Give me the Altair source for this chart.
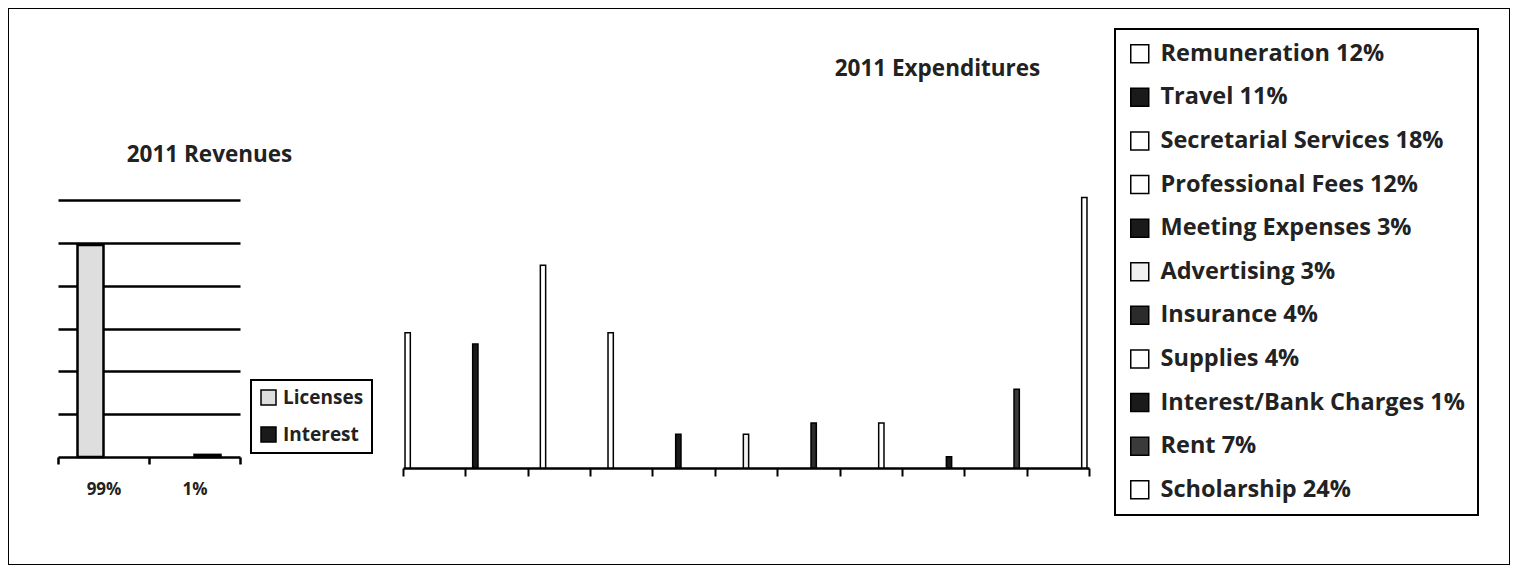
import altair as alt
import pandas as pd

# ---- 2011 Revenues ----
rev_categories = ["99%", "1%"]
rev_series = ["Licenses", "Interest"]
rev_values = [99, 1]
rev_colors = ["#dedede", "#1a1a1a"]

# ---- 2011 Expenditures ----
exp_names = ["Remuneration", "Travel", "Secretarial Services", "Professional Fees",
             "Meeting Expenses", "Advertising", "Insurance", "Supplies",
             "Interest/Bank Charges", "Rent", "Scholarship"]
exp_values = [12, 11, 18, 12, 3, 3, 4, 4, 1, 7, 24]
exp_colors = ["#ffffff", "#1a1a1a", "#ffffff", "#ffffff", "#1a1a1a", "#f0f0f0",
              "#2b2b2b", "#ffffff", "#1a1a1a", "#3a3a3a", "#ffffff"]
exp_labels = [f"{n} {v}%" for n, v in zip(exp_names, exp_values)]

rev_df = pd.DataFrame({"rcat": rev_categories, "rser": rev_series, "rval": rev_values})
exp_df = pd.DataFrame({"ecat": exp_names, "elabel": exp_labels, "eval": exp_values})

FONT = "Open Sans"
TXT = "#222222"

rev_bars = alt.Chart(rev_df).mark_bar(stroke="black", strokeWidth=2.5).encode(
    x=alt.X("rcat:N", sort=rev_categories,
            scale=alt.Scale(range=[50, 232], paddingInner=0, paddingOuter=0),
            axis=alt.Axis(orient="bottom", offset=-108, tickBand="extent",
                          tickSize=7, tickWidth=2.5, tickColor="black",
                          domainColor="black", domainWidth=2.5, labelAngle=0,
                          labelFontSize=17, labelFontWeight="bold", labelPadding=17,
                          labelColor=TXT, title="2011 Revenues", titleX=201, titleY=-303,
                          titleAlign="center", titleBaseline="middle", titleFontSize=22.5,
                          titleFontWeight="bold", titleColor=TXT, grid=False)),
    xOffset=alt.XOffset("rser:N", sort=rev_series,
                        scale=alt.Scale(paddingOuter=0.75, paddingInner=0)),
    y=alt.Y("rval:Q", scale=alt.Scale(domain=[0, 120], range=[449, 192]),
            axis=alt.Axis(orient="left", offset=-232, values=[20, 40, 60, 80, 100, 120],
                          tickSize=182, tickWidth=2.5, tickColor="black", labels=False,
                          domain=False, grid=False, title=None, zindex=0)),
    color=alt.Color("rser:N", sort=rev_series,
                    scale=alt.Scale(domain=rev_series, range=rev_colors),
                    legend=alt.Legend(orient="none", legendX=243, legendY=372, title=None,
                                      strokeColor="black", padding=8,
                                      symbolType="square", symbolSize=225,
                                      symbolStrokeColor="black", symbolStrokeWidth=1.5,
                                      labelFontSize=19, labelFontWeight="bold",
                                      labelColor=TXT, labelOffset=5, rowPadding=16)),
)

exp_bars = alt.Chart(exp_df).mark_bar(stroke="black", strokeWidth=1.5).encode(
    x=alt.X("ecat:N", sort=exp_names,
            scale=alt.Scale(range=[395, 1081], paddingInner=0, paddingOuter=0),
            axis=alt.Axis(orient="bottom", offset=-97, tickBand="extent", labels=False,
                          tickSize=8, tickWidth=2, tickColor="black",
                          domainColor="black", domainWidth=2.5,
                          title="2011 Expenditures", titleX=929, titleY=-400,
                          titleAlign="center", titleBaseline="middle", titleFontSize=22.5,
                          titleFontWeight="bold", titleColor=TXT, grid=False)),
    xOffset=alt.XOffset("elabel:N", sort=exp_labels,
                        scale=alt.Scale(paddingOuter=0.38, paddingInner=0)),
    y=alt.Y("eval:Q", scale=alt.Scale(domain=[0, 30], range=[460, 122]), axis=None),
    color=alt.Color("elabel:N", sort=exp_labels,
                    scale=alt.Scale(domain=exp_labels, range=exp_colors),
                    legend=alt.Legend(orient="none", legendX=1107, legendY=21, title=None,
                                      strokeColor="black", padding=13,
                                      symbolType="square", symbolSize=324,
                                      symbolStrokeColor="black", symbolStrokeWidth=1.5,
                                      labelFontSize=23.5, labelFontWeight="bold",
                                      labelColor=TXT, labelOffset=9, rowPadding=18.6,
                                      labelLimit=500)),
)

chart = alt.layer(rev_bars, exp_bars).resolve_scale(
    x="independent", y="independent", color="independent", xOffset="independent"
).resolve_axis(x="independent", y="independent").resolve_legend(
    color="independent"
).properties(
    width=1502, height=557, padding=0
).configure(
    font=FONT
).configure_view(
    stroke="black", strokeWidth=2
).configure_legend(strokeWidth=2)

chart.save("out.html", embed_options={"renderer": "svg", "actions": False})
